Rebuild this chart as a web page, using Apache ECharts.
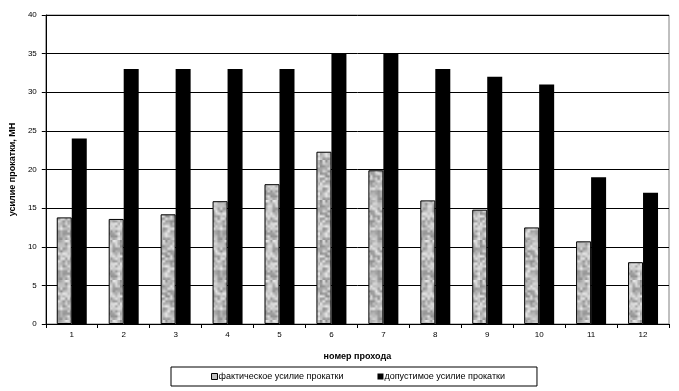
<!DOCTYPE html>
<html><head><meta charset="utf-8">
<script src="https://cdn.jsdelivr.net/npm/echarts@6/dist/echarts.min.js"></script>
<style>html,body{margin:0;padding:0;background:#fff}#c{width:679px;height:391px}</style>
</head><body><div id="c"></div>
<script>
var categories = ['1','2','3','4','5','6','7','8','9','10','11','12'];
var actualForce = [13.8, 13.6, 14.2, 15.9, 18.1, 22.3, 19.9, 16.0, 14.8, 12.5, 10.7, 8.0];
var allowedForce = [24, 33, 33, 33, 33, 35, 35, 33, 32, 31, 19, 17];
var seriesNames = ['фактическое усилие прокатки', 'допустимое усилие прокатки'];

// deterministic grainy texture for the grey bars
var small = document.createElement('canvas');
small.width = 16; small.height = 16;
var sctx = small.getContext('2d');
for (var y = 0; y < 16; y++) {
  for (var x = 0; x < 16; x++) {
    var h = Math.sin(x * 12.9898 + y * 78.233) * 43758.5453;
    h = h - Math.floor(h);
    var v = Math.round(140 + h * 95);
    sctx.fillStyle = 'rgb(' + v + ',' + v + ',' + v + ')';
    sctx.fillRect(x, y, 1, 1);
  }
}
var tex = document.createElement('canvas');
tex.width = 40; tex.height = 40;
var tctx = tex.getContext('2d');
tctx.imageSmoothingEnabled = true;
tctx.drawImage(small, 0, 0, 40, 40);

var font = 'Liberation Sans, Arial, sans-serif';
var chart = echarts.init(document.getElementById('c'));
chart.setOption({
  animation: false,
  backgroundColor: '#fff',
  grid: { left: 44, right: 10, top: 15, bottom: 67, show: true, borderColor: '#808080', borderWidth: 1 },
  legend: {
    bottom: 5, left: 171,
    padding: [5, 32, 5, 40],
    borderColor: '#000', borderWidth: 1,
    itemWidth: 6, itemHeight: 6, itemGap: 34,
    textStyle: { fontFamily: font, fontSize: 9, color: '#000', padding: [0, 0, 0, -4] },
    data: [
      { name: seriesNames[0], icon: 'rect', itemStyle: { color: '#c0c0c0', borderColor: '#000', borderWidth: 1 } },
      { name: seriesNames[1], icon: 'rect', itemStyle: { color: '#000' } }
    ]
  },
  xAxis: {
    type: 'category', data: categories,
    name: 'номер прохода', nameLocation: 'middle', nameGap: 28,
    nameTextStyle: { fontFamily: font, fontSize: 9, fontWeight: 'bold', color: '#000' },
    axisLine: { lineStyle: { color: '#000' } },
    axisTick: { show: true, length: 4, lineStyle: { color: '#000' } },
    axisLabel: { fontFamily: font, fontSize: 8, color: '#000', margin: 7 }
  },
  yAxis: {
    type: 'value', min: 0, max: 40, interval: 5,
    name: 'усилие прокатки, МН', nameLocation: 'middle', nameGap: 27,
    nameTextStyle: { fontFamily: font, fontSize: 9, fontWeight: 'bold', color: '#000' },
    axisLine: { show: true, lineStyle: { color: '#000' } },
    axisTick: { show: true, length: 4, lineStyle: { color: '#000' } },
    axisLabel: { fontFamily: font, fontSize: 8, color: '#000', margin: 9 },
    splitLine: { lineStyle: { color: '#000', width: 1 } }
  },
  series: [
    {
      name: seriesNames[0], type: 'bar', data: actualForce,
      barWidth: 15, barGap: '0%',
      itemStyle: { color: { image: tex, repeat: 'repeat' }, borderColor: '#000', borderWidth: 1 }
    },
    {
      name: seriesNames[1], type: 'bar', data: allowedForce,
      barWidth: 15,
      itemStyle: { color: '#000' }
    }
  ]
});
</script></body></html>
